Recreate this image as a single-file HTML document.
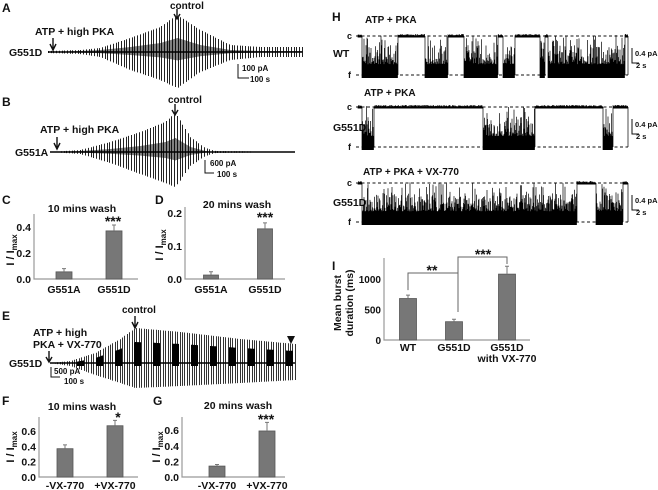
<!DOCTYPE html>
<html><head><meta charset="utf-8"><style>
html,body{margin:0;padding:0;background:#fff;}
svg{display:block;font-family:"Liberation Sans",Arial,sans-serif;font-weight:bold;}
text{fill:#111;}
</style></head><body>
<svg id="fig" width="658" height="490" viewBox="0 0 658 490" xmlns="http://www.w3.org/2000/svg">
<g id="static" font-size="11">
  <text x="2" y="12" font-size="12">A</text>
  <text x="2" y="106" font-size="12">B</text>
  <text x="2" y="204" font-size="12">C</text>
  <text x="155" y="204" font-size="12">D</text>
  <text x="2" y="320" font-size="12">E</text>
  <text x="2" y="405" font-size="12">F</text>
  <text x="153" y="405" font-size="12">G</text>
  <text x="332" y="21" font-size="12">H</text>
  <text x="332" y="270" font-size="12">I</text>

  <text x="170" y="9" font-size="10">control</text>
  <path d="M177 9V18M174 14L177 19L180 14" stroke="#111" stroke-width="1.4" fill="none"/>
  <text x="35" y="35" font-size="10.5">ATP + high PKA</text>
  <path d="M53 38V49M50 44L53 50L56 44" stroke="#111" stroke-width="1.4" fill="none"/>
  <text x="9" y="56" font-size="10.5">G551D</text>
  <path d="M238 64V78H249" stroke="#111" stroke-width="1" fill="none"/>
  <text x="242" y="71" font-size="8">100 pA</text>
  <text x="250" y="82" font-size="8">100 s</text>

  <text x="168" y="103" font-size="10">control</text>
  <path d="M175 104V114M172 110L175 115L178 110" stroke="#111" stroke-width="1.4" fill="none"/>
  <text x="40" y="133" font-size="10.5">ATP + high PKA</text>
  <path d="M57 137V148M54 143L57 149L60 143" stroke="#111" stroke-width="1.4" fill="none"/>
  <text x="15" y="156" font-size="10.5">G551A</text>
  <path d="M205 160V173H214" stroke="#111" stroke-width="1" fill="none"/>
  <text x="210" y="166" font-size="8">600 pA</text>
  <text x="217" y="177" font-size="8">100 s</text>

  <text x="122" y="313" font-size="10">control</text>
  <path d="M135 316V327M132 322L135 328L138 322" stroke="#111" stroke-width="1.4" fill="none"/>
  <text x="33" y="336" font-size="10.5">ATP + high</text>
  <text x="33" y="348" font-size="10.5">PKA + VX-770</text>
  <path d="M49 351V361M46 357L49 362L52 357" stroke="#111" stroke-width="1.4" fill="none"/>
  <text x="9" y="367" font-size="10.5">G551D</text>
  <path d="M51 367V377H60" stroke="#111" stroke-width="1" fill="none"/>
  <text x="54" y="374" font-size="8">500 pA</text>
  <text x="64" y="384" font-size="8">100 s</text>
  <path d="M287 336H295L291 344Z" fill="#111"/>

  <text x="365" y="23" font-size="10">ATP + PKA</text>
  <text x="333" y="57" font-size="10.5">WT</text>
  <text x="364" y="96" font-size="10">ATP + PKA</text>
  <text x="333" y="131" font-size="10.5">G551D</text>
  <text x="363" y="175" font-size="10">ATP + PKA + VX-770</text>
  <text x="333" y="206" font-size="10.5">G551D</text>
</g>
<g id="traces"></g>
<g id="bars"></g>
</svg>
<script>
// ---------- Data ----------
const traceA_t = [48, 80, 100, 130, 160, 177, 200, 230, 260, 302];
const traceA_up = [1, 2, 4, 14, 25, 37, 22, 7, 5, 5];
const traceA_down = [1, 2, 5, 18, 28, 36, 20, 8, 5, 5];
const traceA_inner = [0, 1, 2, 5, 9, 14, 7, 2, 1, 1];
const traceB_t = [50, 80, 110, 140, 165, 175, 190, 205, 215, 295];
const traceB_up = [0, 2, 10, 20, 30, 39, 15, 4, 1, 0];
const traceB_down = [0, 2, 11, 22, 31, 35, 14, 4, 1, 0];
const traceB_inner = [0, 1, 3, 6, 10, 14, 5, 1, 0, 0];
const traceE_t = [50, 70, 95, 120, 135, 180, 240, 295];
const traceE_up = [0, 2, 10, 24, 35, 31, 24, 19];
const traceE_down = [0, 3, 12, 20, 25, 23, 20, 17];
const traceE_inner = [0, 0, 5, 14, 21, 19, 15, 12];

const chanWT = [["C",358,362],["B",362,398],["C",398,425],["B",425,448],["C",448,464],["B",464,498],["C",498,503],["B",503,515],["C",515,540],["B",540,545],["C",545,548],["B",548,625],["C",625,628]];
const chanG551D = [["C",358,362],["B",362,374],["C",374,483],["B",483,535],["C",535,603],["B",603,613],["C",613,628]];
const chanVX = [["C",358,362],["B",362,577],["C",577,596],["B",596,623],["C",623,628]];

const catsC = ["G551A","G551D"], valsC = [0.055, 0.37], errC = [0.025, 0.045];
const ticksC = [0.0, 0.2, 0.4];
const catsD = ["G551A","G551D"], valsD = [0.012, 0.152], errD = [0.01, 0.018];
const ticksD = [0.0, 0.1, 0.2];
const catsF = ["-VX-770","+VX-770"], valsF = [0.37, 0.67], errF = [0.05, 0.07];
const ticksF = [0.0, 0.2, 0.4, 0.6];
const catsG = ["-VX-770","+VX-770"], valsG = [0.14, 0.59], errG = [0.02, 0.11];
const ticksG = [0.0, 0.2, 0.4, 0.6];
const catsI = ["WT","G551D","G551D"], valsI = [680, 300, 1080], errI = [55, 40, 130];
const ticksI = [0, 500, 1000];

// ---------- Rendering ----------
const NS = "http://www.w3.org/2000/svg";
function mk(tag, attrs, parent){ const e=document.createElementNS(NS,tag); for(const k in attrs) e.setAttribute(k,attrs[k]); parent.appendChild(e); return e; }
function interp(ts, vs, x){ if(x<=ts[0]) return vs[0]; for(let i=1;i<ts.length;i++){ if(x<=ts[i]){ const f=(x-ts[i-1])/(ts[i]-ts[i-1]); return vs[i-1]+f*(vs[i]-vs[i-1]); } } return vs[vs.length-1]; }
function hash(i){ const s=Math.sin(i*12.9898+78.233)*43758.5453; return s-Math.floor(s); }

const tg = document.getElementById("traces");
function macro(name, ts, up, down, base, step, color, inner, blocky){
  const g = mk("g",{},tg);
  
  
  let d = "";
  for(let x=ts[0]; x<=ts[ts.length-1]; x+=step){
    const u=interp(ts,up,x), dn=interp(ts,down,x);
    const xp = Math.round(x)+0.5;
    d += "M"+xp+" "+(base-u).toFixed(1)+"V"+(base+dn).toFixed(1);
  }
  mk("path",{d:d,stroke:color,"stroke-width":1,fill:"none"},g);
  let d2="";
  for(let x=ts[0]; x<=ts[ts.length-1]; x+=1){
    const v=interp(ts,inner,x);
    if(v<0.5) continue;
    if(blocky){ if(((x-20)%19) < 7) d2 += "M"+(x+0.5)+" "+(base-v).toFixed(1)+"V"+(base+3); }
    else d2 += "M"+(x+0.5)+" "+(base-v).toFixed(1)+"V"+(base+v*0.6).toFixed(1);
  }
  mk("path",{d:d2,stroke:"#000","stroke-width":blocky?1:0.5,fill:"none"},g);
  mk("path",{d:"M"+ts[0]+" "+base+"H"+ts[ts.length-1],stroke:"#000","stroke-width":1.4},g);
}
macro("trace-a-g551d", traceA_t, traceA_up, traceA_down, 52, 2.7, "#222", traceA_inner, false);
macro("trace-b-g551a", traceB_t, traceB_up, traceB_down, 152, 2.7, "#222", traceB_inner, false);
macro("trace-e-g551d-vx770", traceE_t, traceE_up, traceE_down, 363, 2.4, "#333", traceE_inner, true);

function channel(name, segs, cY, fY, seed){
  const g = mk("g",{},tg);
  
  
  mk("path",{d:"M356 "+cY+"H628M356 "+fY+"H628",stroke:"#111","stroke-width":0.9,"stroke-dasharray":"3,2.5",fill:"none"},g);
  mk("text",{x:347,y:cY+3,"font-size":9},g).textContent="c";
  mk("text",{x:348,y:fY+3,"font-size":9},g).textContent="f";
  const span = fY-cY;
  let d="";
  let i=seed;
  segs.forEach(s=>{
    for(let x=s[1]; x<s[2]; x+=0.5){
      i++;
      const r=hash(i);
      if(s[0]==="C"){ d+="M"+x+" "+(cY-2+r*1.5).toFixed(1)+"V"+(cY+1.5).toFixed(1); }
      else {
        let top = fY-3-span*(0.2+0.5*r*r);
        if(hash(i*3.1)>0.9) top = cY-1+hash(i*7)*8;
        d+="M"+x+" "+(fY+3).toFixed(1)+"V"+top.toFixed(1);
      }
    }
    d+="M"+s[2]+" "+(cY)+"V"+(fY);
  });
  mk("path",{d:d,stroke:"#000","stroke-width":0.7,fill:"none"},g);
  mk("path",{d:"M632 "+(cY+12)+"V"+(cY+27)+"H639",stroke:"#111","stroke-width":1,fill:"none"},g);
  mk("text",{x:635,y:cY+20,"font-size":7.5},g).textContent="0.4 pA";
  mk("text",{x:636,y:cY+32,"font-size":7.5},g).textContent="2 s";
}
channel("channel-trace-wt", chanWT, 36, 75, 1);
channel("channel-trace-g551d", chanG551D, 107, 147, 500);
channel("channel-trace-g551d-vx770", chanVX, 183, 222, 1000);

const bg = document.getElementById("bars");
function barChart(o){
  const g = mk("g",{},bg);
  
  
  const y = v => o.y0 - v * o.scale;
  mk("path",{d:"M"+o.ax+" "+o.top+"V"+o.y0+"H"+o.axEnd,stroke:"#999","stroke-width":1.2,fill:"none"},g);
  o.ticks.forEach(t=>{
    const tl = mk("text",{x:o.ax-3,y:y(t)+4,"text-anchor":"end","font-size":o.fs||10.5},g);
    tl.textContent = o.fmt ? o.fmt(t) : t.toFixed(1);
    
    
  });
  o.cats.forEach((c,k)=>{
    const cx = o.cx[k];
    const r = mk("rect",{x:cx-o.bw/2,y:y(o.vals[k]),width:o.bw,height:o.y0-y(o.vals[k]),fill:"#777",stroke:"#555","stroke-width":0.8},g);
    
    
    const et = y(o.vals[k]+o.err[k]);
    mk("path",{d:"M"+cx+" "+y(o.vals[k])+"V"+et+"M"+(cx-2)+" "+et+"H"+(cx+2),stroke:"#777","stroke-width":1,fill:"none"},g);
    const lb = mk("text",{x:cx,y:o.labY,"text-anchor":"middle","font-size":10.5},g);
    lb.textContent = c;
    
    
  });
  if(o.title){
    const t = mk("text",{x:o.titleX,y:o.titleY,"text-anchor":"middle","font-size":10.5},g);
    t.textContent=o.title;
    
    
  }
  if(o.stars){
    const s = mk("text",{x:o.starX,y:o.starY,"text-anchor":"middle","font-size":14},g);
    s.textContent=o.stars;
    
    
  }
  if(o.ylab){
    const yl = mk("text",{x:0,y:0,"text-anchor":"middle","font-size":11,transform:"translate("+o.ylabX+","+o.ylabY+") rotate(-90)"},g);
    yl.innerHTML = 'I / I<tspan font-size="8" dy="3">max</tspan>';
    
    
  }
  return {g:g,y:y};
}
barChart({name:"chart-c",cats:catsC,vals:valsC,err:errC,ticks:ticksC,ax:34,axEnd:138,top:214,y0:279,scale:130,cx:[64,114],bw:16,labY:293,title:"10 mins wash",titleX:82,titleY:212,stars:"***",starX:113,starY:226,ylab:true,ylabX:14,ylabY:250});
barChart({name:"chart-d",cats:catsD,vals:valsD,err:errD,ticks:ticksD,ax:185,axEnd:285,top:207,y0:279,scale:330,cx:[211,265],bw:15,labY:293,title:"20 mins wash",titleX:237,titleY:208,stars:"***",starX:265,starY:222,ylab:true,ylabX:163,ylabY:245});
barChart({name:"chart-f",cats:catsF,vals:valsF,err:errF,ticks:ticksF,ax:39,axEnd:138,top:417,y0:477,scale:76.5,cx:[65,115],bw:16,labY:489,title:"10 mins wash",titleX:82,titleY:410,stars:"*",starX:118,starY:422,ylab:true,ylabX:14,ylabY:447});
barChart({name:"chart-g",cats:catsG,vals:valsG,err:errG,ticks:ticksG,ax:182,axEnd:285,top:417,y0:477,scale:78,cx:[217,267],bw:16,labY:489,title:"20 mins wash",titleX:238,titleY:409,stars:"***",starX:266,starY:424,ylab:true,ylabX:160,ylabY:447});
const ci = barChart({name:"chart-i",cats:catsI,vals:valsI,err:errI,ticks:ticksI,ax:384,axEnd:530,top:258,y0:340,scale:0.061,cx:[408,454,507],bw:17,labY:351,fmt:t=>String(t),fs:10});
(function(){
  const g = ci.g, y = ci.y;
  const t2 = mk("text",{x:507,y:362,"text-anchor":"middle","font-size":10.5},g);
  t2.textContent="with VX-770";
  
  
  const yl = mk("text",{x:0,y:0,"text-anchor":"middle","font-size":10.5,transform:"translate(341,303) rotate(-90)"},g);
  yl.textContent="Mean burst";
  
  
  const yl2 = mk("text",{x:0,y:0,"text-anchor":"middle","font-size":10.5,transform:"translate(353,303) rotate(-90)"},g);
  yl2.textContent="duration (ms)";
  
  
  mk("path",{d:"M408 "+(y(valsI[0]+errI[0])-5)+"V273H458V312",stroke:"#666","stroke-width":1,fill:"none"},g);
  mk("path",{d:"M458 273V257H507V264",stroke:"#666","stroke-width":1,fill:"none"},g);
  const s1 = mk("text",{x:432,y:275,"text-anchor":"middle","font-size":14},g); s1.textContent="**";
  
  
  const s2 = mk("text",{x:483,y:259,"text-anchor":"middle","font-size":14},g); s2.textContent="***";
  
  
})();
</script>
</body></html>
